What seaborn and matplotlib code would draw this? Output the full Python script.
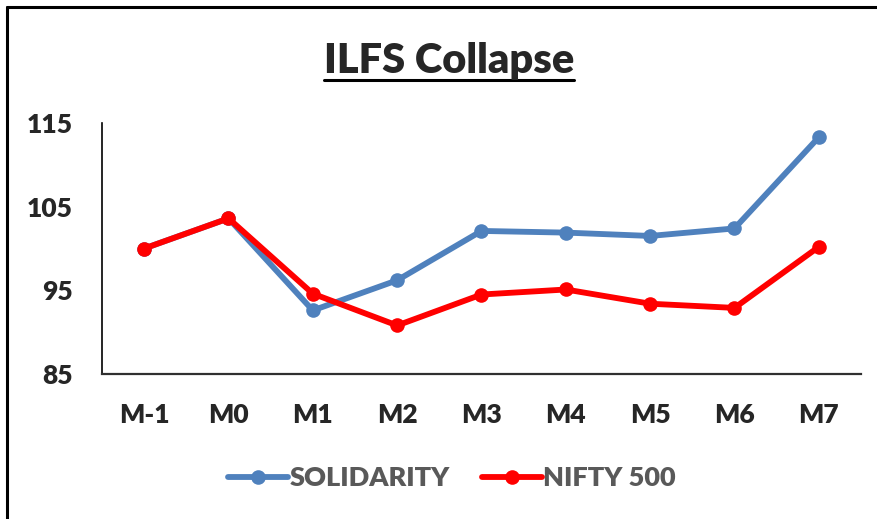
import pandas as pd
import matplotlib.pyplot as plt
import seaborn as sns
from matplotlib.lines import Line2D

months = ['M-1', 'M0', 'M1', 'M2', 'M3', 'M4', 'M5', 'M6', 'M7']
solidarity = [100.0, 103.6, 92.6, 96.2, 102.1, 101.9, 101.5, 102.4, 113.3]
nifty500 = [100.0, 103.6, 94.6, 90.8, 94.5, 95.1, 93.4, 92.9, 100.2]
yticks = [85, 95, 105, 115]

df = pd.DataFrame({'Mes': months, 'SOLIDARITY': solidarity, 'NIFTY 500': nifty500})

sns.set_style('white')
plt.rcParams['font.family'] = ['Lato', 'DejaVu Sans']
peso = 'heavy'

fig = plt.figure(figsize=(8.78, 5.19), dpi=100)
ax = fig.add_axes([102 / 878, 1 - 374 / 519, 759 / 878, 251 / 519])

sns.lineplot(data=df, x='Mes', y='SOLIDARITY', ax=ax, color='#4F81BD', marker='o',
             markersize=10.5, linewidth=4.2, markeredgewidth=0, label='SOLIDARITY', sort=False)
sns.lineplot(data=df, x='Mes', y='NIFTY 500', ax=ax, color='#FF0000', marker='o',
             markersize=10.5, linewidth=4.2, markeredgewidth=0, label='NIFTY 500', sort=False)

ax.set_xlim(-0.5, 8.5)
ax.set_ylim(85, 115)
ax.set_yticks(yticks)
ax.set_xlabel('')
ax.set_ylabel('')
ax.tick_params(axis='both', length=0, labelsize=19)
ax.tick_params(axis='y', pad=21)
ax.tick_params(axis='x', pad=21)
for lab in ax.get_xticklabels() + ax.get_yticklabels():
    lab.set_fontweight(peso)
sns.despine(ax=ax)
ax.spines['left'].set_color('black')
ax.spines['left'].set_linewidth(1.2)
ax.spines['bottom'].set_color('#303030')
ax.spines['bottom'].set_linewidth(1.6)

ax.get_legend().remove()
handles, labels = ax.get_legend_handles_labels()
leg = fig.legend(handles, labels, loc='center', bbox_to_anchor=(452 / 878, 1 - 478 / 519),
                 ncol=2, frameon=False, fontsize=19.5, handlelength=2.2, handletextpad=0.05,
                 columnspacing=1.2, labelcolor='#595959')
for t in leg.get_texts():
    t.set_fontweight(peso)

title = fig.text(449 / 878, 1 - 73 / 519, 'ILFS Collapse', ha='center', va='baseline',
                 fontsize=30, fontweight=peso)

# underline del titulo
fig.canvas.draw()
bb = title.get_window_extent()
fig.add_artist(Line2D([bb.x0 / 878, bb.x1 / 878], [1 - 80 / 519, 1 - 80 / 519],
                      transform=fig.transFigure, color='black', linewidth=2.2))

# borde de la figura
fig.add_artist(Line2D([7 / 878, 1], [1 - 7 / 519, 1 - 7 / 519], transform=fig.transFigure,
                      color='black', linewidth=2.2))
fig.add_artist(Line2D([7 / 878, 7 / 878], [0, 1 - 7 / 519], transform=fig.transFigure,
                      color='black', linewidth=2.2))

fig.savefig('out.png', dpi=100)
